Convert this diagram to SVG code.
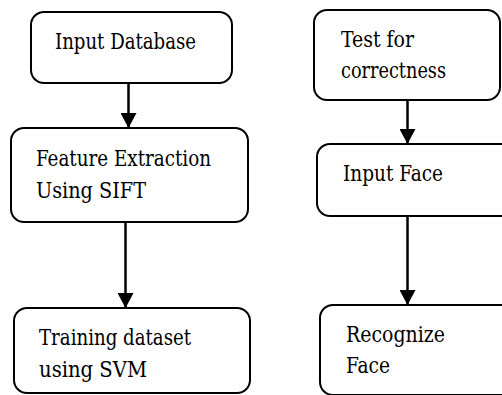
<svg xmlns="http://www.w3.org/2000/svg" width="502" height="395" viewBox="0 0 502 395">
  <style>
    .box { fill: #ffffff; stroke: #000000; stroke-width: 2; }
    .label { font-family: 'DejaVu Serif Condensed', 'DejaVu Serif', serif; font-stretch: condensed; font-size: 21.5px; fill: #000000; }
    .edge { stroke: #000000; stroke-width: 2.5; fill: none; }
  </style>
  <defs>
    <marker id="arrow" markerUnits="userSpaceOnUse" markerWidth="16" markerHeight="16" refX="15" refY="8" orient="auto">
      <path d="M0,0 L15,8 L0,16 Z" fill="#000000"/>
    </marker>
  </defs>
  <rect width="502" height="395" fill="#ffffff"/>

  <g id="connectors">
    <line class="edge" x1="128.5" y1="83" x2="128.5" y2="128" marker-end="url(#arrow)"/>
    <line class="edge" x1="125.5" y1="222" x2="125.5" y2="308" marker-end="url(#arrow)"/>
    <line class="edge" x1="407.5" y1="100" x2="407.5" y2="144" marker-end="url(#arrow)"/>
    <line class="edge" x1="407.5" y1="216" x2="407.5" y2="305" marker-end="url(#arrow)"/>
  </g>

  <g id="input-database">
    <rect class="box" x="31" y="12" width="201" height="71" rx="13"/>
    <text class="label" x="55" y="49" textLength="141" lengthAdjust="spacingAndGlyphs">Input Database</text>
  </g>

  <g id="feature-extraction">
    <rect class="box" x="11" y="128" width="237" height="94" rx="13"/>
    <text class="label" x="36" y="166" textLength="175" lengthAdjust="spacingAndGlyphs">Feature Extraction</text>
    <text class="label" x="36" y="198" textLength="110" lengthAdjust="spacingAndGlyphs">Using SIFT</text>
  </g>

  <g id="training-dataset">
    <rect class="box" x="14" y="308" width="236" height="85" rx="13"/>
    <text class="label" x="39" y="345" textLength="152" lengthAdjust="spacingAndGlyphs">Training dataset</text>
    <text class="label" x="39" y="377" textLength="108" lengthAdjust="spacingAndGlyphs">using SVM</text>
  </g>

  <g id="test-correctness">
    <rect class="box" x="314" y="10" width="186" height="90" rx="13"/>
    <text class="label" x="341" y="47" textLength="73" lengthAdjust="spacingAndGlyphs">Test for</text>
    <text class="label" x="341" y="78" textLength="105" lengthAdjust="spacingAndGlyphs">correctness</text>
  </g>

  <g id="input-face">
    <rect class="box" x="317" y="144" width="200" height="72" rx="13"/>
    <text class="label" x="343" y="181" textLength="100" lengthAdjust="spacingAndGlyphs">Input Face</text>
  </g>

  <g id="recognize-face">
    <rect class="box" x="320" y="305" width="200" height="90" rx="13"/>
    <text class="label" x="346" y="342" textLength="99" lengthAdjust="spacingAndGlyphs">Recognize</text>
    <text class="label" x="346" y="373" textLength="44" lengthAdjust="spacingAndGlyphs">Face</text>
  </g>
</svg>
